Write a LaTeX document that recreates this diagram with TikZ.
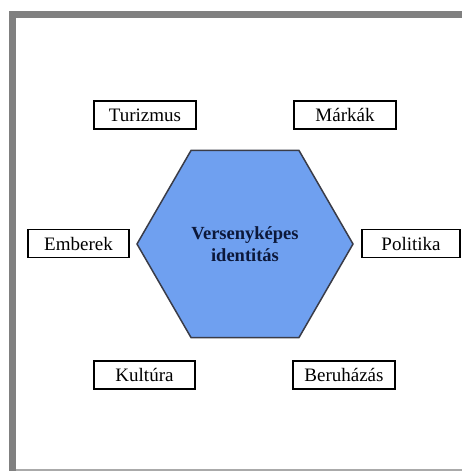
\documentclass[tikz,border=0pt]{standalone}
\usepackage{fontspec}
\setmainfont{Liberation Serif}
\newfontfamily\timesface{Liberation Serif}
\usetikzlibrary{shapes.geometric}
\definecolor{hexfill}{RGB}{111,160,240}
\definecolor{hexline}{RGB}{58,60,72}
\definecolor{hextext}{RGB}{12,24,58}
\definecolor{framegray}{RGB}{128,128,128}
\definecolor{framelight}{RGB}{170,170,170}
\tikzset{
  labelbox/.style={draw=black, line width=1.4pt, fill=white, inner sep=0pt,
    minimum height=28pt, font=\timesface\fontsize{19}{22}\selectfont},
  hexnode/.style={regular polygon, regular polygon sides=6, draw=hexline,
    line width=1.5pt, fill=hexfill, inner sep=0pt, minimum size=216pt,
    text=hextext, align=center, font=\timesface\bfseries\fontsize{18.5}{22}\selectfont}
}
\begin{document}
\begin{tikzpicture}[x=1pt,y=-1pt]
\useasboundingbox (0,0) rectangle (462,471);
% frame
\fill[framegray] (9,11) rectangle (16,471);
\fill[framegray] (9,11) rectangle (462,18);
\fill[framelight] (16,469) rectangle (462,471);
% hexagon
\node[hexnode] (hex) at (245,244) {Versenyk\'epes\\identit\'as};
% boxes
\node[labelbox, minimum width=102pt] (turizmus) at (145,115) {Turizmus};
\node[labelbox, minimum width=102pt] (markak) at (345,115) {M\'ark\'ak};
\node[labelbox, minimum width=101pt] (emberek) at (78.5,243.5) {Emberek};
\node[labelbox, minimum width=98pt] (politika) at (411,243.5) {Politika};
\node[labelbox, minimum width=101pt] (kultura) at (144.5,375) {Kult\'ura};
\node[labelbox, minimum width=102pt] (beruhazas) at (344,375) {Beruh\'az\'as};
\end{tikzpicture}
\end{document}
